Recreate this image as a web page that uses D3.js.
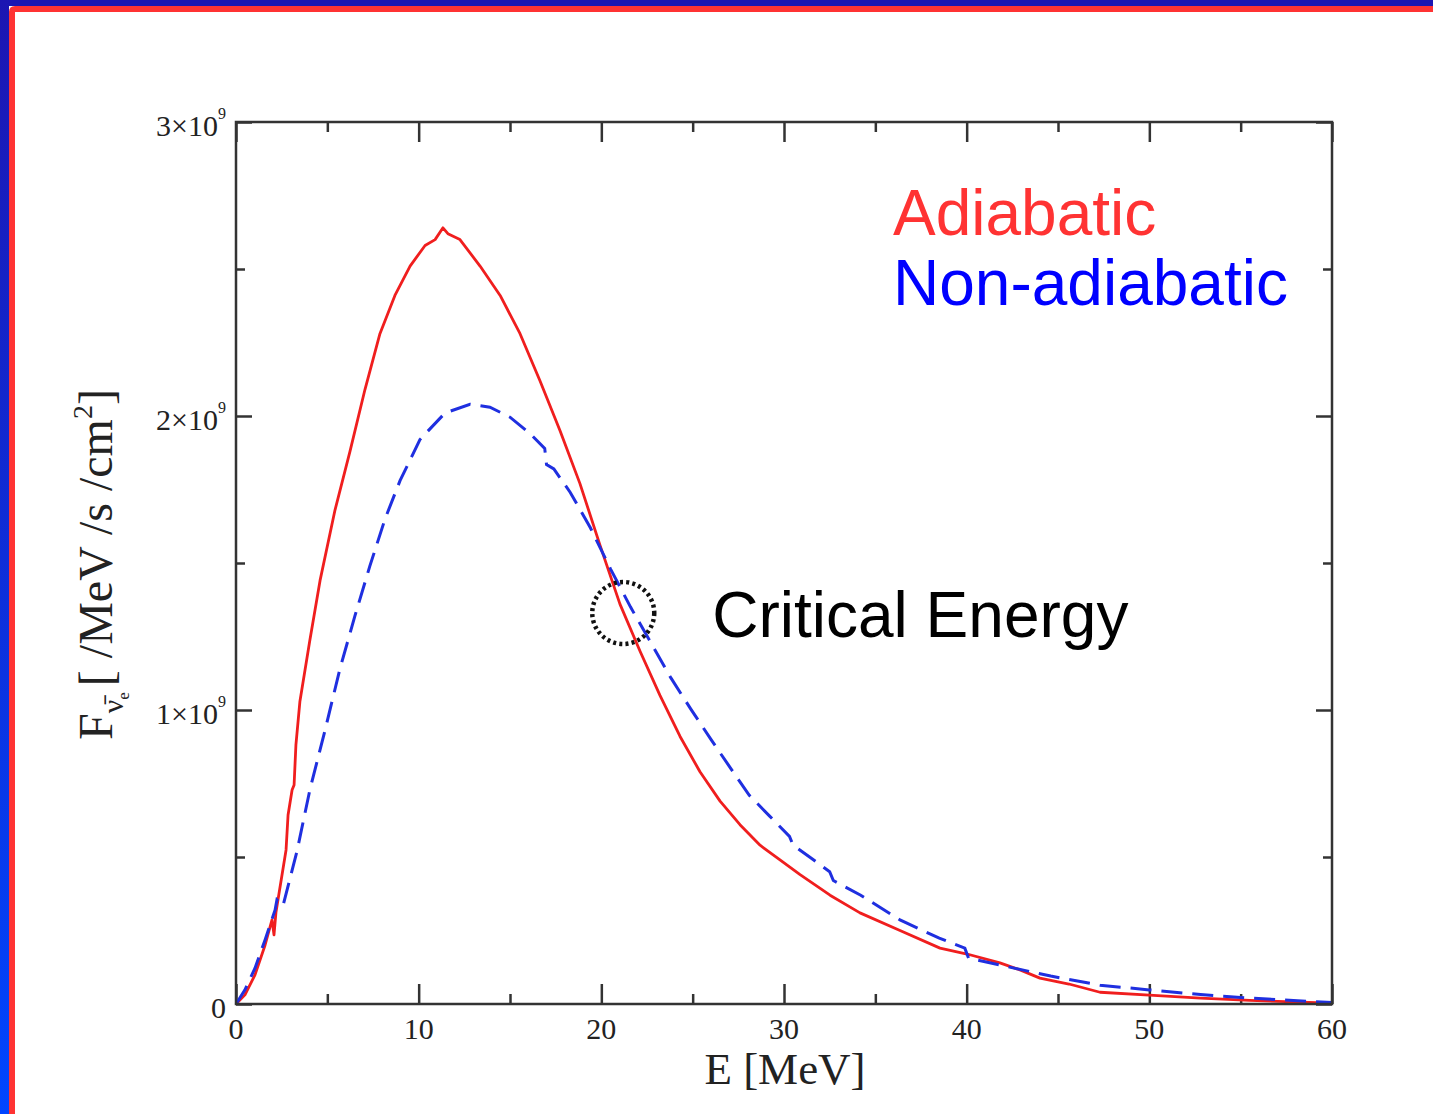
<!DOCTYPE html>
<html>
  <head>
    <meta charset="utf-8">
    <script src="https://d3js.org/d3.v7.min.js"></script>
    <style>
      body { margin: 0px; background: #fff; }
      .domain { display: none; }
      .tick line { stroke: #333; stroke-width: 2.5; }
      .num { fill: #222; font-family: "Liberation Serif", serif; }
    </style>
  </head>
  <body>
    <svg width="1433" height="1114"></svg>
    <script>
      // energies (MeV) and fluxes (1e9 /MeV/s/cm^2)
      const adiabaticE = [0, 0.49, 1.04, 1.59, 1.97, 2.08, 2.19, 2.74, 2.85, 3.07, 3.18, 3.28, 3.5, 4.05, 4.6, 5.42, 6.24, 7.06, 7.88, 8.7, 9.53, 10.35, 10.9, 11.33, 11.6, 12.26, 13.36, 14.46, 15.55, 16.64, 17.74, 18.83, 19.93, 21.02, 22.12, 23.21, 24.31, 25.4, 26.5, 27.59, 28.69, 29.78, 30.88, 32.52, 34.16, 36.35, 38.54, 40.02, 41.82, 42.92, 44.01, 45.6, 47.3, 50, 52.8, 55.5, 60];
      const adiabaticF = [0, 0.031, 0.099, 0.2, 0.286, 0.235, 0.313, 0.524, 0.643, 0.728, 0.745, 0.881, 1.03, 1.24, 1.44, 1.68, 1.88, 2.09, 2.28, 2.41, 2.51, 2.58, 2.6, 2.64, 2.62, 2.6, 2.51, 2.41, 2.28, 2.12, 1.95, 1.77, 1.56, 1.36, 1.2, 1.05, 0.91, 0.79, 0.69, 0.61, 0.54, 0.49, 0.44, 0.37, 0.31, 0.25, 0.19, 0.17, 0.14, 0.116, 0.088, 0.068, 0.04, 0.03, 0.02, 0.012, 0.003];
      const nonAdiabaticE = [0, 0.49, 1.04, 1.59, 2.14, 2.24, 2.57, 3.34, 4.05, 4.87, 5.69, 6.51, 7.33, 8.16, 8.98, 10.07, 11.44, 12.81, 13.9, 15, 16.1, 16.9, 17, 17.4, 18.3, 19.4, 20.5, 21.6, 22.7, 23.8, 24.9, 26, 27.1, 28.1, 29.2, 30.3, 30.5, 31.4, 32.5, 32.7, 34.2, 36.35, 38.5, 39.9, 40.1, 41.8, 44.6, 47.3, 50, 52.8, 55.5, 60];
      const nonAdiabaticF = [0, 0.048, 0.122, 0.218, 0.32, 0.354, 0.333, 0.52, 0.73, 0.93, 1.14, 1.32, 1.49, 1.65, 1.78, 1.92, 2.01, 2.04, 2.03, 1.996, 1.94, 1.89, 1.835, 1.82, 1.74, 1.62, 1.48, 1.35, 1.23, 1.11, 1.003, 0.9, 0.8, 0.71, 0.64, 0.57, 0.54, 0.5, 0.45, 0.42, 0.37, 0.286, 0.224, 0.19, 0.156, 0.133, 0.095, 0.064, 0.048, 0.032, 0.02, 0.005];

      const xMajor = [0, 10, 20, 30, 40, 50, 60];
      const xMinor = [5, 15, 25, 35, 45, 55];
      const yMajor = [0, 1, 2, 3];
      const yMinor = [0.5, 1.5, 2.5];
      const yTickLabels = ['0', '1×10', '2×10', '3×10'];
      const yTickExp = ['', '9', '9', '9'];
      const criticalE = 21.2, criticalF = 1.33;

      const svg = d3.select('svg');
      const margin = { left: 236, right: 101, top: 122, bottom: 110 };
      const W = 1433, H = 1114;
      const innerWidth = W - margin.left - margin.right;
      const innerHeight = H - margin.top - margin.bottom;

      // slide border
      const defs = svg.append('defs');
      const grad = defs.append('linearGradient').attr('id', 'blueSide')
        .attr('x1', 0).attr('y1', 0).attr('x2', 0).attr('y2', 1);
      grad.append('stop').attr('offset', '0%').attr('stop-color', '#1c16b2');
      grad.append('stop').attr('offset', '100%').attr('stop-color', '#0046ff');
      svg.append('rect').attr('x', 0).attr('y', 0).attr('width', W).attr('height', 6).attr('fill', '#1c16b2');
      svg.append('rect').attr('x', 0).attr('y', 0).attr('width', 9).attr('height', H).attr('fill', 'url(#blueSide)');
      svg.append('path')
        .attr('d', `M9,${H} L9,12 Q9,6 15,6 L${W},6 L${W},12 L15,12 L15,${H} Z`)
        .attr('fill', '#ff3333');

      const g = svg.append('g').attr('transform', `translate(${margin.left},${margin.top})`);

      const x = d3.scaleLinear().domain([0, 60]).range([0, innerWidth]);
      const y = d3.scaleLinear().domain([0, 3]).range([innerHeight, 0]);

      // ticks on all four sides, pointing inward (labels are drawn separately)
      const noText = a => a.selectAll('text').remove();
      g.append('g').attr('transform', `translate(0,${innerHeight})`)
        .call(d3.axisBottom(x).tickValues(xMajor).tickSize(-20)).call(noText);
      g.append('g').attr('transform', `translate(0,${innerHeight})`)
        .call(d3.axisBottom(x).tickValues(xMinor).tickSize(-10)).call(noText);
      g.append('g').call(d3.axisTop(x).tickValues(xMajor).tickSize(-20)).call(noText);
      g.append('g').call(d3.axisTop(x).tickValues(xMinor).tickSize(-10)).call(noText);
      g.append('g').call(d3.axisLeft(y).tickValues(yMajor).tickSize(-16)).call(noText);
      g.append('g').call(d3.axisLeft(y).tickValues(yMinor).tickSize(-9)).call(noText);
      g.append('g').attr('transform', `translate(${innerWidth},0)`)
        .call(d3.axisRight(y).tickValues(yMajor).tickSize(-16)).call(noText);
      g.append('g').attr('transform', `translate(${innerWidth},0)`)
        .call(d3.axisRight(y).tickValues(yMinor).tickSize(-9)).call(noText);

      // curves
      const line = d3.line().x(d => x(d[0])).y(d => y(d[1]));
      g.append('path')
        .datum(adiabaticE.map((e, i) => [e, adiabaticF[i]]))
        .attr('fill', 'none').attr('stroke', '#f01e1e').attr('stroke-width', 2.8)
        .attr('stroke-linejoin', 'round')
        .attr('d', line);
      g.append('path')
        .datum(nonAdiabaticE.map((e, i) => [e, nonAdiabaticF[i]]))
        .attr('fill', 'none').attr('stroke', '#1f2fe0').attr('stroke-width', 3)
        .attr('stroke-dasharray', '21,10')
        .attr('d', line);

      // frame
      g.append('rect').attr('width', innerWidth).attr('height', innerHeight)
        .attr('fill', 'none').attr('stroke', '#333').attr('stroke-width', 2.5);

      // tick labels
      g.selectAll('.xlab').data(xMajor).enter().append('text')
        .attr('class', 'num').style('font-size', '30px')
        .attr('x', d => x(d)).attr('y', innerHeight + 35)
        .attr('text-anchor', 'middle').text(d => d);
      const yl = g.selectAll('.ylab').data(yMajor).enter().append('text')
        .attr('class', 'num').style('font-size', '30px').attr('text-anchor', 'end')
        .attr('x', -10).attr('y', d => y(d) + 14);
      yl.append('tspan').text((d, i) => yTickLabels[i]);
      yl.append('tspan').attr('dy', -17).style('font-size', '16px').text((d, i) => yTickExp[i]);

      // axis titles
      g.append('text').attr('class', 'num').style('font-size', '45px')
        .attr('x', 549).attr('y', innerHeight + 80)
        .attr('text-anchor', 'middle').text('E [MeV]');
      const yt = svg.append('text').attr('class', 'num').style('font-size', '48px')
        .attr('transform', 'translate(112,740) rotate(-90)');
      yt.append('tspan').text('F');
      yt.append('tspan').style('font-size', '30px').attr('dy', 11).text('ν̄');
      yt.append('tspan').style('font-size', '17px').attr('dy', 6).text('e');
      yt.append('tspan').attr('dy', -17).attr('dx', 6).text('[ /MeV /s /cm');
      yt.append('tspan').style('font-size', '28px').attr('dy', -20).text('2');
      yt.append('tspan').attr('dy', 20).text(']');

      // critical energy marker
      g.append('circle').attr('cx', x(criticalE)).attr('cy', y(criticalF)).attr('r', 31)
        .attr('fill', 'none').attr('stroke', '#111').attr('stroke-width', 4.5)
        .attr('stroke-dasharray', '3,3.2');
      g.append('text').attr('x', x(criticalE) + 89).attr('y', y(criticalF) + 24)
        .attr('font-family', 'Liberation Sans, Arial, sans-serif').style('font-size', '64px')
        .attr('fill', '#000').text('Critical Energy');

      // legend
      const legend = svg.append('g').attr('font-family', 'Liberation Sans, Arial, sans-serif').style('font-size', '64px');
      legend.append('text').attr('x', 893).attr('y', 235).attr('fill', '#ff3333').text('Adiabatic');
      legend.append('text').attr('x', 893).attr('y', 305).attr('fill', '#0000ff').text('Non-adiabatic');
    </script>
  </body>
</html>
